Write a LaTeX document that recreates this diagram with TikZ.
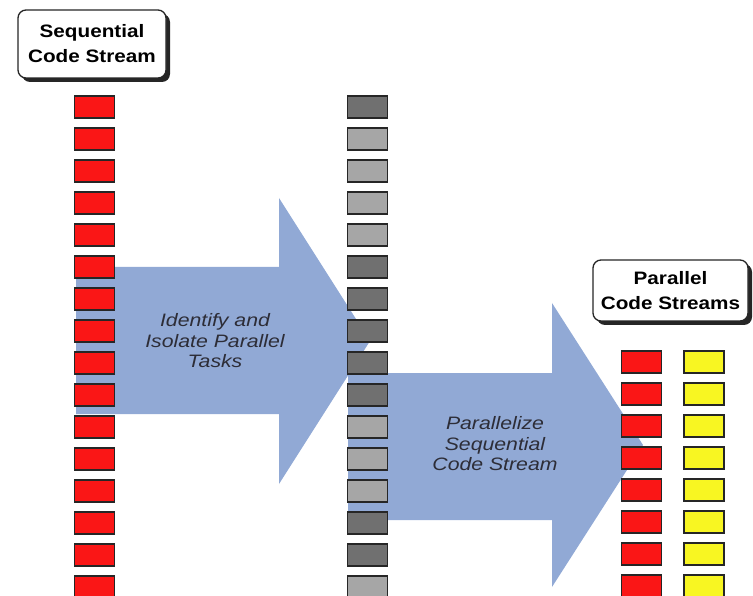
\documentclass[tikz,border=0pt]{standalone}
\usepackage{fontspec}
\usetikzlibrary{shadows}
\newfontfamily\lblfont[FakeStretch=1.15]{Liberation Sans}
\newfontfamily\notefont[FakeStretch=1.18]{Liberation Sans}
\definecolor{arrowblue}{RGB}{145,169,213}
\definecolor{blkred}{RGB}{250,22,22}
\definecolor{blkyellow}{RGB}{248,246,34}
\definecolor{blkdark}{RGB}{112,112,112}
\definecolor{blklight}{RGB}{166,166,166}
\definecolor{notegray}{RGB}{45,45,55}
\begin{document}
\begin{tikzpicture}[x=1pt,y=-1pt,
  blk/.style={rectangle, minimum width=40pt, minimum height=22pt, inner sep=0pt,
    draw=black!85, line width=1.3pt},
  redblk/.style={blk, fill=blkred},
  yelblk/.style={blk, fill=blkyellow},
  tag/.style={rectangle, rounded corners=8pt, draw=black!85, line width=1.3pt,
    fill=white, align=center, inner sep=0pt,
    font=\lblfont\bfseries\fontsize{18pt}{25pt}\selectfont,
    drop shadow={shadow xshift=4pt, shadow yshift=-4pt, fill=black!85, opacity=1}},
  note/.style={align=center, text=notegray, inner sep=0pt,
    font=\notefont\itshape\fontsize{18pt}{20.5pt}\selectfont},
  bigarrow/.style={fill=arrowblue, draw=none}]
\useasboundingbox (0,0) rectangle (753,596);
\clip (0,0) rectangle (753,596);

% broad block arrows (behind the columns)
\path[bigarrow] (76,267) -- (279,267) -- (279,198) -- (370,341)
  -- (279,484) -- (279,414) -- (76,414) -- cycle;
\path[bigarrow] (348,373) -- (552,373) -- (552,303) -- (643,445)
  -- (552,587) -- (552,520) -- (348,520) -- cycle;

\node[note] (t1) at (215,341) {Identify and\\Isolate Parallel\\Tasks};
\node[note] (t2) at (495,444) {Parallelize\\Sequential\\Code Stream};

% sequential stream
\foreach \k in {0,...,15}
  \node[redblk] (s\k) at (94.5,107+32*\k) {};

% stream with tasks marked
\foreach \k/\c in {0/blkdark,1/blklight,2/blklight,3/blklight,4/blklight,
    5/blkdark,6/blkdark,7/blkdark,8/blkdark,9/blkdark,10/blklight,
    11/blklight,12/blklight,13/blkdark,14/blkdark,15/blklight}
  \node[blk, fill=\c] (m\k) at (367.5,107+32*\k) {};

% parallel streams
\foreach \k in {0,...,7} {
  \node[redblk] (r\k) at (641.5,362+32*\k) {};
  \node[yelblk] (y\k) at (704,362+32*\k) {};
}

% labels
\node[tag, minimum width=148pt, minimum height=68pt] (seq) at (92,44)
  {Sequential\\Code Stream};
\node[tag, minimum width=155pt, minimum height=61pt] (par) at (670.5,290.5)
  {Parallel\\Code Streams};
\end{tikzpicture}
\end{document}
